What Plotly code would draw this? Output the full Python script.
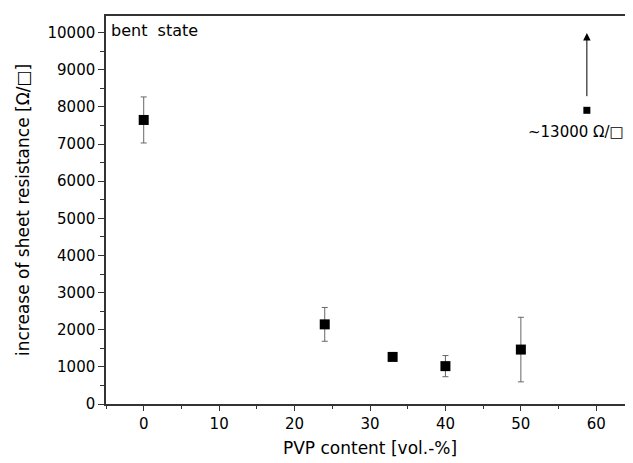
import plotly.graph_objects as go

pvp_content = [0, 24, 33, 40, 50]
resistance_increase = [7650, 2145, 1268, 1020, 1466]
resistance_error = [620, 455, 0, 285, 870]

outlier_x = [58.75]
outlier_y = [7910]
outlier_label = "~13000 Ω/□"
arrow_tail = 8250
arrow_head = 9990

FONT = "DejaVu Sans, Arial, sans-serif"

fig = go.Figure()
fig.add_trace(go.Scatter(
    x=pvp_content, y=resistance_increase, mode="markers",
    marker=dict(symbol="square", size=10, color="black"),
    error_y=dict(type="data", array=resistance_error, visible=True,
                 color="#666666", thickness=1, width=3),
    showlegend=False,
))
fig.add_trace(go.Scatter(
    x=outlier_x, y=outlier_y, mode="markers",
    marker=dict(symbol="square", size=7, color="black"),
    showlegend=False,
))

fig.add_annotation(x=outlier_x[0], y=arrow_head, ax=outlier_x[0], ay=arrow_tail,
                   xref="x", yref="y", axref="x", ayref="y", text="",
                   showarrow=True, arrowhead=2, arrowsize=1.5, arrowwidth=1,
                   arrowcolor="black")
fig.add_annotation(x=outlier_x[0], y=outlier_y[0], xref="x", yref="y",
                   text=outlier_label, showarrow=False, yshift=-22, xshift=-11,
                   font=dict(family=FONT, size=15, color="black"))
fig.add_annotation(x=0, y=1, xref="paper", yref="paper", xanchor="left", yanchor="top",
                   text="bent&nbsp;&nbsp;state", showarrow=False, xshift=3, yshift=-3,
                   font=dict(family=FONT, size=16, color="black"))

axis_common = dict(showgrid=False, zeroline=False, showline=True, linecolor="#333333",
                   linewidth=1.5, ticks="outside", tickcolor="#333333", tickwidth=1,
                   tickfont=dict(family=FONT, size=15, color="black"))

fig.update_xaxes(range=[-5, 65], tick0=0, dtick=10, ticklen=5, mirror=True,
                 minor=dict(ticks="outside", dtick=5, tick0=0, ticklen=3, tickcolor="#333333"),
                 title=dict(text="PVP content [vol.-%]", standoff=10,
                            font=dict(family=FONT, size=17, color="black")),
                 **axis_common)
fig.update_yaxes(range=[0, 10450], tick0=0, dtick=1000, ticklen=6, tickformat="d",
                 minor=dict(ticks="outside", dtick=500, tick0=0, ticklen=4, tickcolor="#333333"),
                 title=dict(text="increase of sheet resistance [Ω/□]", standoff=14,
                            font=dict(family=FONT, size=17, color="black")),
                 **axis_common)

fig.update_layout(width=633, height=463, margin=dict(l=98, r=7, t=6, b=67),
                  plot_bgcolor="white", paper_bgcolor="white")
fig.write_html("out.html")
